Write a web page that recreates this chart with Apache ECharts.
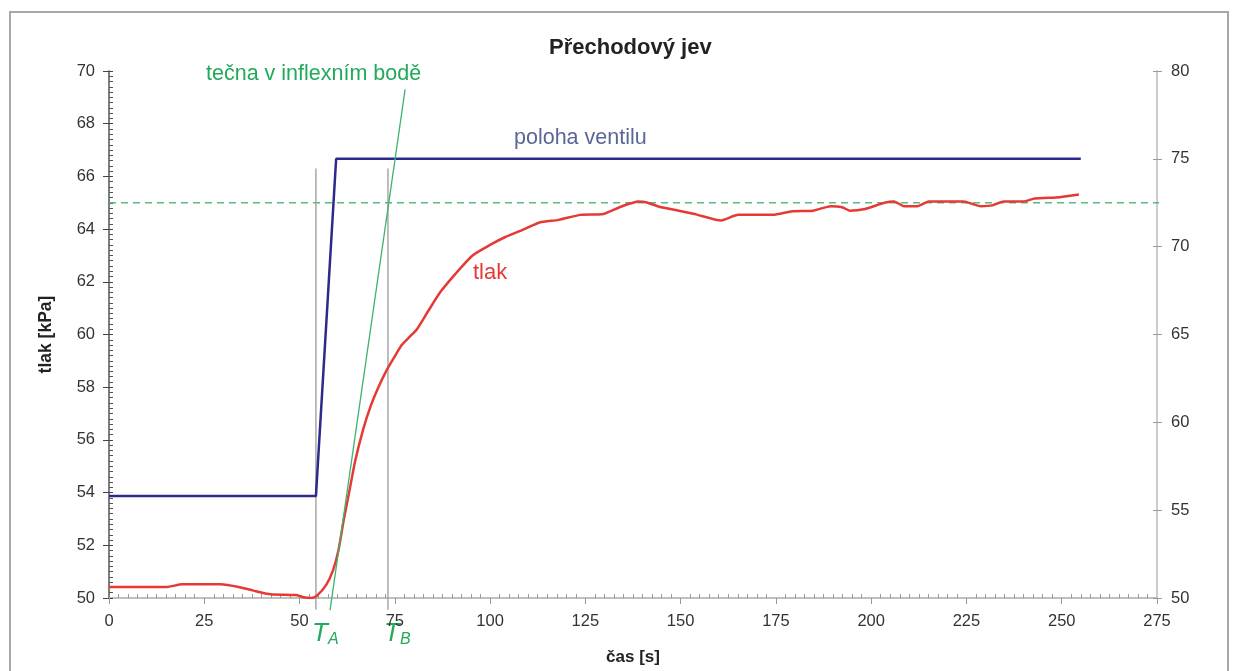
<!DOCTYPE html>
<html>
<head>
<meta charset="utf-8">
<title>Přechodový jev</title>
<script src="https://cdn.jsdelivr.net/npm/echarts@6/dist/echarts.min.js"></script>
<style>
  html, body { margin: 0; padding: 0; background: #fff; }
  #chart { width: 1240px; height: 671px; }
</style>
</head>
<body>
<div id="chart"></div>
<script>
// čas [s] a tlak [kPa]
const casTlak = [0, 15.2, 19.2, 29.3, 34.3, 37.9, 42.4, 49, 51, 53.1, 54.5, 57, 58.8, 60.2, 61.6, 63, 64.6, 66.7,
  68.7, 70.7, 72.7, 74.7, 76.8, 78.8, 80.8, 83.8, 86.9, 90.9, 95.4, 100, 104, 109, 113, 118, 123.7, 129.3,
  134.3, 138.9, 140.9, 144.4, 149.5, 154, 160.6, 165.1, 174.2, 179.3, 184.8, 189.4, 192.4, 194.4, 198, 203.5,
  206, 208.6, 212.1, 215.1, 224.2, 228.8, 231.8, 234.8, 239.9, 242.9, 249.5, 254.5]
const tlak = [50.42, 50.42, 50.52, 50.52, 50.41, 50.28, 50.14, 50.11, 50.03, 50.0, 50.08, 50.5, 51.06, 51.8, 52.97, 54.0,
  55.2, 56.4, 57.3, 58.0, 58.6, 59.1, 59.6, 59.9, 60.2, 60.9, 61.6, 62.3, 63.0, 63.4, 63.7, 64.0, 64.25, 64.35,
  64.54, 64.56, 64.85, 65.05, 65.02, 64.85, 64.7, 64.56, 64.33, 64.54, 64.54, 64.68, 64.7, 64.87, 64.83, 64.7,
  64.75, 65.0, 65.05, 64.87, 64.87, 65.05, 65.05, 64.87, 64.9, 65.05, 65.05, 65.16, 65.21, 65.31]

// poloha ventilu (pravá osa)
const casVentil = [0, 54.3, 59.6, 255]
const ventil = [55.8, 55.8, 75, 75]

// tečna v inflexním bodě
const casTecna = [58.0, 77.7]
const tecna = [49.54, 69.3]

// svislé čáry T_A, T_B a ustálená hodnota
const casTA = 54.3
const casTB = 73.2
const svisleRozsah = [49.55, 66.3]
const ustalenaHodnota = 65
const ustalenaRozsah = [0, 276.5]

const zip = (xs, ys) => xs.map((x, i) => [x, ys[i]])

const FONT = '"Liberation Sans", Arial, sans-serif'
const GREEN = '#22a95a'
const chart = echarts.init(document.getElementById('chart'))

/** pomocná osa jen pro vnitřní značky (čárky přes osu) */
function innerTicks(position, min, max, interval, color) {
  return {
    type: 'value', min, max, interval, position,
    axisLine: { show: false },
    axisTick: { show: true, inside: true, length: 4, lineStyle: { color } },
    axisLabel: { show: false },
    splitLine: { show: false }
  }
}

chart.setOption({
  animation: false,
  textStyle: { fontFamily: FONT },
  title: {
    text: 'Přechodový jev',
    left: 544,
    top: 32,
    textStyle: { fontSize: 22, fontWeight: 'bold', color: '#222', fontFamily: FONT }
  },
  grid: { left: 109, right: 83, top: 71, bottom: 73, outerBoundsMode: 'none' },
  xAxis: {
    type: 'value',
    min: 0,
    max: 275,
    interval: 25,
    name: 'čas [s]',
    nameLocation: 'center',
    nameGap: 51,
    nameTextStyle: { fontSize: 17, fontWeight: 'bold', color: '#222' },
    axisLine: { lineStyle: { color: '#aaa', width: 1.5 } },
    axisTick: { length: 6, lineStyle: { color: '#999' } },
    minorTick: { show: true, splitNumber: 10, length: -4, lineStyle: { color: '#999' } },
    axisLabel: { fontSize: 16.5, color: '#333', margin: 15 },
    splitLine: { show: false }
  },
  yAxis: [
    {
      type: 'value',
      min: 50,
      max: 70,
      interval: 2,
      name: 'tlak [kPa]',
      nameLocation: 'center',
      nameGap: 54,
      nameRotate: 90,
      nameTextStyle: { fontSize: 17.5, fontWeight: 'bold', color: '#222' },
      axisLine: { show: true, lineStyle: { color: '#555', width: 1.5 } },
      axisTick: { show: true, length: 6, lineStyle: { color: '#444' } },
      minorTick: { show: true, splitNumber: 10, length: -4, lineStyle: { color: '#555' } },
      axisLabel: { fontSize: 16.5, color: '#333', margin: 14 },
      splitLine: { show: false }
    },
    {
      type: 'value',
      min: 50,
      max: 80,
      interval: 5,
      position: 'right',
      axisLine: { show: true, lineStyle: { color: '#bbb', width: 1.5 } },
      axisTick: { show: true, length: 5, lineStyle: { color: '#999' } },
      axisLabel: { fontSize: 16.5, color: '#333', margin: 14 },
      splitLine: { show: false }
    },
    innerTicks('right', 50, 80, 5, '#999'),
    innerTicks('left', 50, 70, 2, '#444')
  ],
  series: [
    {
      name: 'ustálená hodnota',
      type: 'line',
      data: ustalenaRozsah.map(t => [t, ustalenaHodnota]),
      symbol: 'none',
      clip: false,
      lineStyle: { color: '#58b978', width: 1.5, type: [7, 5] },
      z: 1
    },
    {
      name: 'T_A',
      type: 'line',
      data: svisleRozsah.map(v => [casTA, v]),
      symbol: 'none',
      clip: false,
      lineStyle: { color: '#9a9a9a', width: 1.3 },
      z: 1
    },
    {
      name: 'T_B',
      type: 'line',
      data: svisleRozsah.map(v => [casTB, v]),
      symbol: 'none',
      clip: false,
      lineStyle: { color: '#9a9a9a', width: 1.3 },
      z: 1
    },
    {
      name: 'poloha ventilu',
      type: 'line',
      yAxisIndex: 1,
      data: zip(casVentil, ventil),
      symbol: 'none',
      lineStyle: { color: '#2e2a8c', width: 2.5 },
      z: 3
    },
    {
      name: 'tlak',
      type: 'line',
      data: zip(casTlak, tlak),
      symbol: 'none',
      smooth: 0.2,
      lineStyle: { color: '#e53935', width: 2.5 },
      z: 4
    },
    {
      name: 'tečna',
      type: 'line',
      data: zip(casTecna, tecna),
      symbol: 'none',
      clip: false,
      lineStyle: { color: '#3cb46e', width: 1.3 },
      z: 5
    }
  ],
  graphic: [
    {
      type: 'rect',
      shape: { x: 10, y: 12, width: 1218, height: 700 },
      style: { fill: 'none', stroke: '#a8a8a8', lineWidth: 2 },
      silent: true,
      z: -1
    },
    {
      type: 'text',
      left: 206, top: 63,
      style: { text: 'tečna v inflexním bodě', fill: GREEN, font: '21.5px ' + FONT }
    },
    {
      type: 'text',
      left: 514, top: 127,
      style: { text: 'poloha ventilu', fill: '#5a6796', font: '21.5px ' + FONT }
    },
    {
      type: 'text',
      left: 473, top: 262,
      style: { text: 'tlak', fill: '#e53935', font: '22px ' + FONT }
    },
    {
      type: 'text',
      left: 312, top: 621,
      style: {
        text: '{t|T}{s|A}',
        fill: GREEN,
        rich: {
          t: { fontSize: 26, fontStyle: 'italic', fill: GREEN, fontFamily: FONT },
          s: { fontSize: 16, fontStyle: 'italic', fill: GREEN, fontFamily: FONT, verticalAlign: 'bottom', padding: [12, 0, 0, 0] }
        }
      }
    },
    {
      type: 'text',
      left: 384, top: 621,
      style: {
        text: '{t|T}{s|B}',
        fill: GREEN,
        rich: {
          t: { fontSize: 26, fontStyle: 'italic', fill: GREEN, fontFamily: FONT },
          s: { fontSize: 16, fontStyle: 'italic', fill: GREEN, fontFamily: FONT, verticalAlign: 'bottom', padding: [12, 0, 0, 0] }
        }
      }
    }
  ]
})

window.addEventListener('resize', () => chart.resize())
</script>
</body>
</html>
